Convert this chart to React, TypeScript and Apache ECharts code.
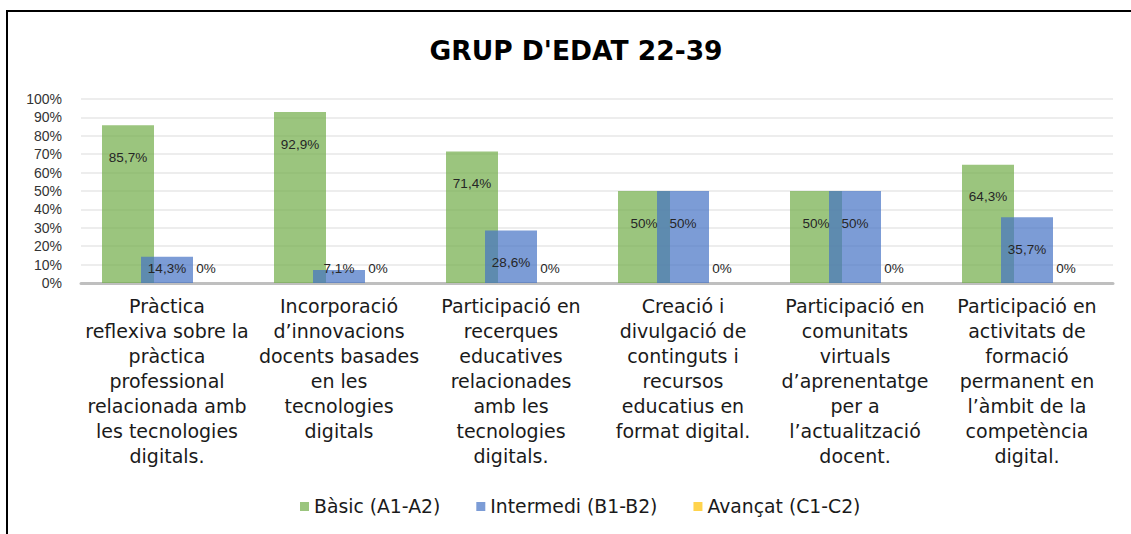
import React, { useEffect, useRef } from "react";
import * as echarts from "echarts";

const title = "GRUP D'EDAT 22-39";

const categories = [
  "Pràctica\nreflexiva sobre la\npràctica\nprofessional\nrelacionada amb\nles tecnologies\ndigitals.",
  "Incorporació\nd’innovacions\ndocents basades\nen les\ntecnologies\ndigitals",
  "Participació en\nrecerques\neducatives\nrelacionades\namb les\ntecnologies\ndigitals.",
  "Creació i\ndivulgació de\ncontinguts i\nrecursos\neducatius en\nformat digital.",
  "Participació en\ncomunitats\nvirtuals\nd’aprenentatge\nper a\nl’actualització\ndocent.",
  "Participació en\nactivitats de\nformació\npermanent en\nl’àmbit de la\ncompetència\ndigital.",
];

const seriesNames = ["Bàsic (A1-A2)", "Intermedi (B1-B2)", "Avançat (C1-C2)"];
const basic = [85.7, 92.9, 71.4, 50, 50, 64.3];
const intermedi = [14.3, 7.1, 28.6, 50, 50, 35.7];
const avancat = [0, 0, 0, 0, 0, 0];

const yTicks = { min: 0, max: 100, interval: 10 };

const colors = ["rgba(112,173,71,0.7)", "rgba(68,114,196,0.7)", "rgba(255,192,0,0.7)"];

const WIDE = "'DejaVu Sans', sans-serif";
const ARIAL = "'Liberation Sans', Arial, sans-serif";

function fmt(v: number) {
  return String(v).replace(".", ",") + "%";
}

function makeData(values: number[]) {
  return values.map((v) => ({
    value: v,
    label:
      v < 20
        ? { position: "insideBottom", distance: 8 }
        : { position: "insideTop", distance: 25 },
  }));
}

export default function App() {
  const ref = useRef<HTMLDivElement>(null);

  useEffect(() => {
    if (!ref.current) return;
    const chart = echarts.init(ref.current, null, { renderer: "svg" });
    const labelStyle = {
      show: true,
      fontFamily: ARIAL,
      fontSize: 13.5,
      color: "#262626",
      formatter: (p: any) => fmt(p.value),
    };
    const mk = (i: number, values: number[]) => ({
      name: seriesNames[i],
      type: "bar",
      barWidth: 52,
      barGap: "-25%",
      itemStyle: { color: colors[i] },
      label: labelStyle,
      emphasis: { disabled: true },
      data: makeData(values),
    });
    chart.setOption({
      animation: false,
      backgroundColor: "#ffffff",
      graphic: [
        {
          type: "rect",
          shape: { x: 7, y: 11, width: 3000, height: 3000 },
          style: { fill: "none", stroke: "#000000", lineWidth: 2 },
          silent: true,
        },
        {
          type: "text",
          x: 576,
          y: 50,
          style: {
            text: title,
            font: `bold 26.5px ${WIDE}`,
            fill: "#000000",
            textAlign: "center",
            textVerticalAlign: "middle",
          },
          silent: true,
        },
      ],
      legend: {
        left: 295,
        top: 492,
        itemWidth: 9,
        itemHeight: 9,
        itemGap: 36,
        icon: "rect",
        textStyle: { fontFamily: WIDE, fontSize: 18.8, color: "#1a1a1a" },
        data: seriesNames,
        selectedMode: false,
      },
      grid: {
        left: 81,
        right: 18,
        top: 99,
        bottom: 251,
        containLabel: false,
        outerBoundsMode: "none",
      },
      xAxis: {
        type: "category",
        data: categories,
        axisLine: { show: true, lineStyle: { color: "#BFBFBF", width: 3 } },
        axisTick: { show: false },
        axisLabel: {
          interval: 0,
          margin: 10,
          fontFamily: WIDE,
          fontSize: 19,
          lineHeight: 25,
          color: "#1a1a1a",
          align: "center",
        },
      },
      yAxis: {
        type: "value",
        min: yTicks.min,
        max: yTicks.max,
        interval: yTicks.interval,
        axisLine: { show: false },
        axisTick: { show: false },
        splitLine: { lineStyle: { color: "#EDEDED", width: 2 } },
        axisLabel: {
          margin: 19,
          fontFamily: ARIAL,
          fontSize: 14,
          color: "#333333",
          formatter: "{value}%",
        },
      },
      series: [mk(0, basic), mk(1, intermedi), mk(2, avancat)],
    });
    return () => chart.dispose();
  }, []);

  return (
    <div
      ref={ref}
      style={{ position: "absolute", left: 0, top: 0, width: 1131, height: 534 }}
    />
  );
}
